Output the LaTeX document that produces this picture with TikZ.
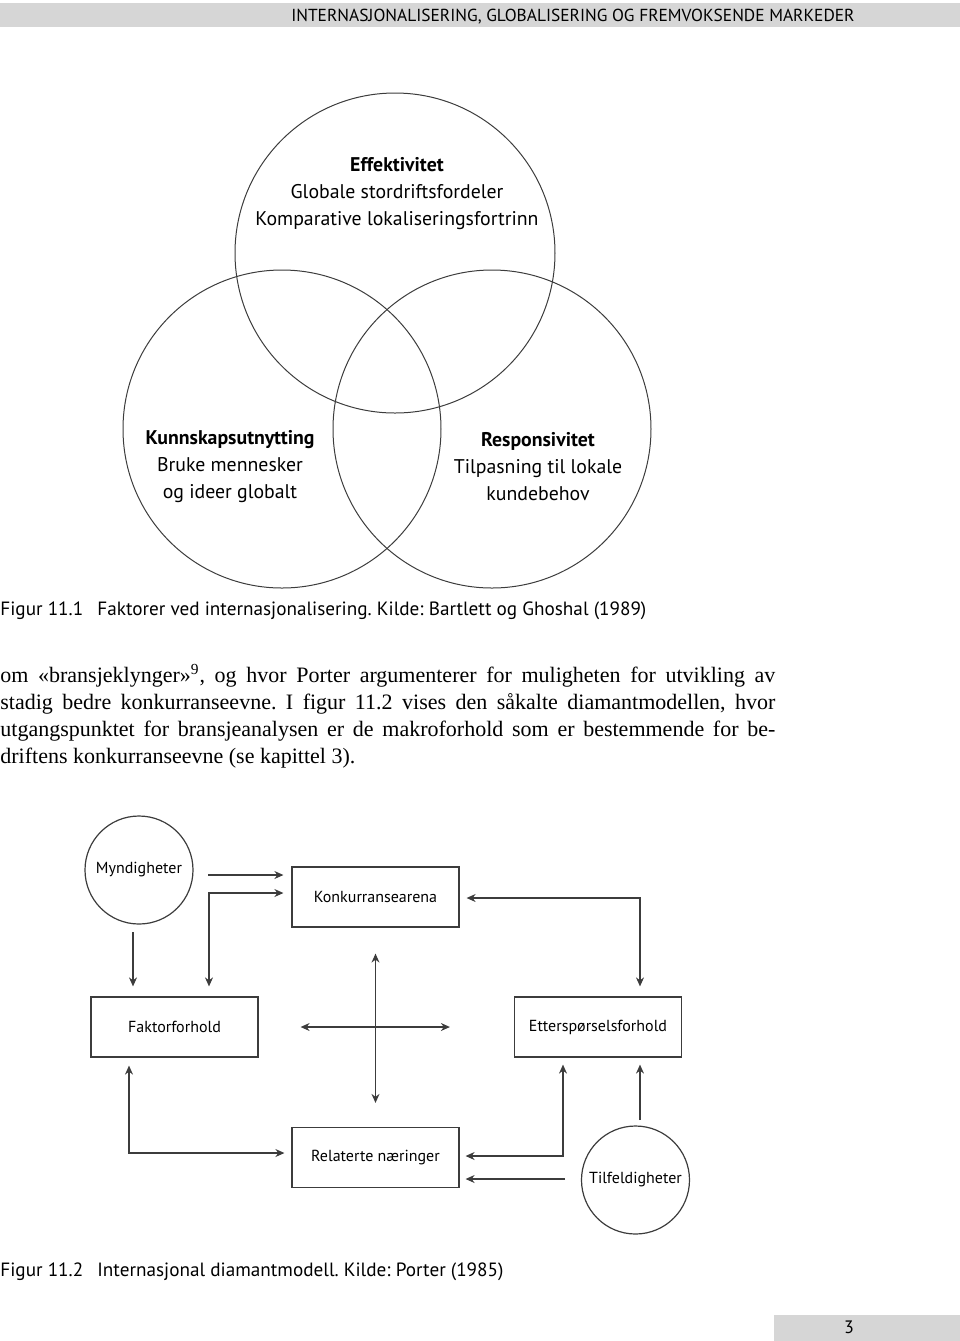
\documentclass[tikz,border=0pt]{standalone}
\usepackage{fontspec}
\setsansfont{PT Sans}
\newfontfamily\bodyfont{Liberation Serif}
\usetikzlibrary{arrows.meta}
\definecolor{bandgray}{HTML}{D6D6D6}
\definecolor{linegray}{HTML}{3C3C3C}
\frenchspacing
\tikzset{
  box/.style={draw=linegray, line width=.6pt, minimum width=83.5pt, minimum height=30pt, font=\sffamily\fontsize{8}{9}\selectfont},
  circ/.style={draw=linegray, line width=.6pt, circle, minimum size=54pt, inner sep=0pt, font=\sffamily\fontsize{8}{9}\selectfont},
  arr/.style={-{Stealth[length=4.5pt,width=4pt]}, draw=linegray, line width=.6pt},
  dbl/.style={{Stealth[length=4.5pt,width=4pt]}-{Stealth[length=4.5pt,width=4pt]}, draw=linegray, line width=.6pt},
  venn/.style={draw=linegray, line width=.5pt},
  vtext/.style={align=center, inner sep=0pt, font=\sffamily\fontsize{9.9}{13.5}\selectfont},
  figcap/.style={anchor=base west, inner sep=0pt, font=\sffamily\fontsize{9.6}{11}\selectfont},
  body/.style={anchor=base west, inner sep=0pt, font=\bodyfont\fontsize{11}{13.5}\selectfont}
}
\begin{document}
\begin{tikzpicture}[x=0.5pt,y=-0.5pt]
\useasboundingbox (0,0) rectangle (960,1341);
\fill[bandgray] (0,3) rectangle (960,27);
\node[anchor=base east, inner sep=0pt, font=\sffamily\fontsize{8.7}{11}\selectfont] (head) at (855,21) {INTERNASJONALISERING, GLOBALISERING OG FREMVOKSENDE MARKEDER};
\draw[venn] (395,253) circle[radius=80pt];
\draw[venn] (282,429) circle[radius=79.5pt];
\draw[venn] (492,429) circle[radius=79.5pt];
\node[vtext] (eff) at (397,194) {\textbf{Effektivitet}\\Globale stordriftsfordeler\\Komparative lokaliseringsfortrinn};
\node[vtext] (kunn) at (230,467) {\textbf{Kunnskapsutnytting}\\Bruke mennesker\\og ideer globalt};
\node[vtext] (resp) at (538,467) {\textbf{Responsivitet}\\Tilpasning til lokale\\kundebehov};
\node[figcap] (fig1) at (0,615) {Figur 11.1};
\node[figcap] (fig1txt) at (97,615) {Faktorer ved internasjonalisering. Kilde: Bartlett og Ghoshal (1989)};
\node[body] (l1) at (0,682) {\makebox[387.5pt][s]{om «bransjeklynger»\textsuperscript{9}, og hvor Porter argumenterer for muligheten for utvikling av}};
\node[body] (l2) at (0,709) {\makebox[387.5pt][s]{stadig bedre konkurranseevne. I figur 11.2 vises den såkalte diamantmodellen, hvor}};
\node[body] (l3) at (0,736) {\makebox[387.5pt][s]{utgangspunktet for bransjeanalysen er de makroforhold som er bestemmende for be-}};
\node[body] (l4) at (0,763) {driftens konkurranseevne (se kapittel 3).};
\node[circ] (myn) at (139,870) {Myndigheter};
\node[box] (konk) at (375.5,897) {Konkurransearena};
\node[box] (fakt) at (174.5,1027) {Faktorforhold};
\node[box] (etter) at (598,1027) {Etterspørselsforhold};
\node[box] (relat) at (375.5,1157.5) {Relaterte næringer};
\node[circ] (tilf) at (635.5,1180) {Tilfeldigheter};
\coordinate (m1) at (208,875);
\coordinate (m2) at (209,893);
\coordinate (m3) at (133,932);
\coordinate (k1) at (640,898);
\coordinate (f1) at (129,1153);
\coordinate (r1) at (563,1156);
\coordinate (t1) at (565,1179);
\coordinate (t2) at (640,1120);
\draw[arr, shorten >=4pt] (m1) -- (m1 -| konk.west);
\draw[dbl, shorten <=4pt, shorten >=5pt] (m2 -| konk.west) -- (m2) -- (m2 |- fakt.north);
\draw[arr, shorten >=5pt] (m3) -- (m3 |- fakt.north);
\draw[dbl, shorten <=3.5pt, shorten >=5pt] (k1 -| konk.east) -- (k1) -- (k1 |- etter.north);
\draw[dbl, shorten <=13pt, shorten >=12pt] (konk.south) -- (relat.north);
\draw[dbl, shorten <=21pt, shorten >=32pt] (fakt.east) -- (etter.west);
\draw[dbl, shorten <=4pt, shorten >=3.5pt] (f1 |- fakt.south) -- (f1) -- (f1 -| relat.west);
\draw[dbl, shorten <=3pt, shorten >=3.5pt] (r1 -| relat.east) -- (r1) -- (r1 |- etter.south);
\draw[arr, shorten >=3pt] (t1) -- (t1 -| relat.east);
\draw[arr, shorten >=3.5pt] (t2) -- (t2 |- etter.south);
\node[figcap] (fig2) at (0,1276) {Figur 11.2};
\node[figcap] (fig2txt) at (97,1276) {Internasjonal diamantmodell. Kilde: Porter (1985)};
\fill[bandgray] (774,1315) rectangle (960,1341);
\node[inner sep=0pt, font=\sffamily\fontsize{9}{11}\selectfont] (page) at (849,1327) {3};
\end{tikzpicture}
\end{document}
